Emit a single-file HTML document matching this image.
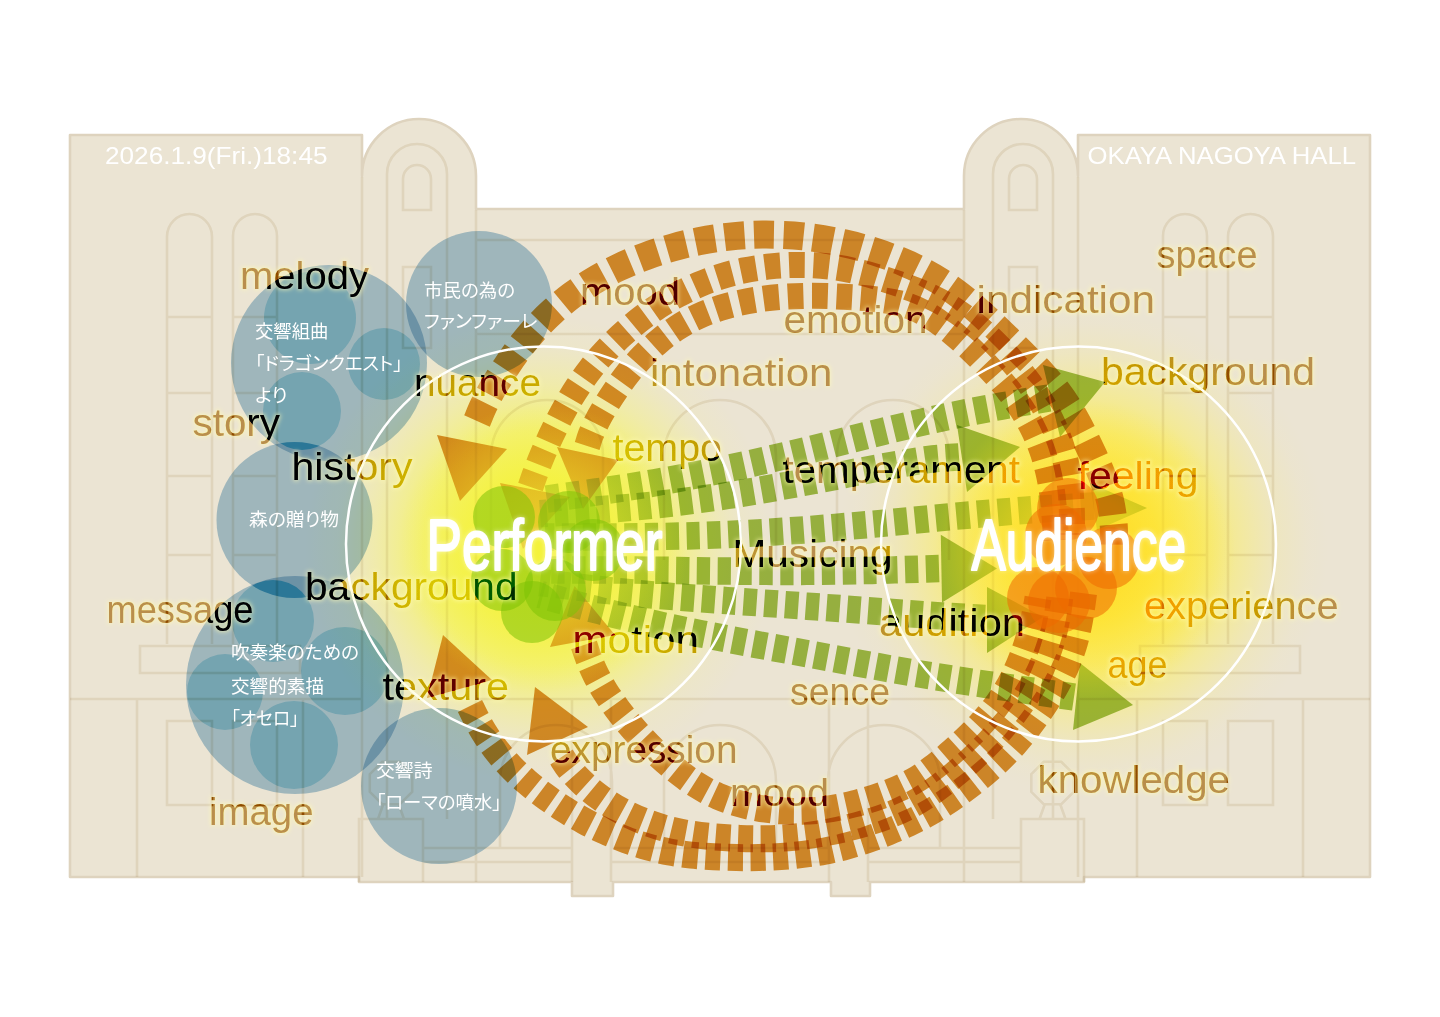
<!DOCTYPE html>
<html lang="ja"><head><meta charset="utf-8"><title>Performer / Audience</title>
<style>
html,body{margin:0;padding:0;background:#fff;}
body{width:1440px;height:1017px;overflow:hidden;font-family:"Liberation Sans","Noto Sans CJK JP",sans-serif;}
svg{display:block;}
</style></head><body>
<svg width="1440" height="1017" viewBox="0 0 1440 1017">
<path d="M70 135 H362 V176 A57 57 0 0 1 476 176 V209 H964 V176 A57 57 0 0 1 1078 176 V135 H1370 V877 H1084 V882 H870 V896 H831 V882 H613 V896 H572 V882 H359 V877 H70 Z" fill="#EBE4D3" stroke="#DED3BE" stroke-width="2.6" stroke-linejoin="round"/>
<defs>
<radialGradient id="gy" cx="0.5" cy="0.5" r="0.5">
<stop offset="0" stop-color="#F4F23A" stop-opacity="1"/><stop offset="0.3" stop-color="#F5F346" stop-opacity="0.95"/><stop offset="0.5" stop-color="#F6F45C" stop-opacity="0.8"/><stop offset="0.7" stop-color="#F7F570" stop-opacity="0.4"/><stop offset="0.86" stop-color="#F8F678" stop-opacity="0.1"/><stop offset="1" stop-color="#F8F678" stop-opacity="0"/>
</radialGradient>
<radialGradient id="gy2" cx="0.5" cy="0.5" r="0.5">
<stop offset="0" stop-color="#FEE838" stop-opacity="1"/><stop offset="0.3" stop-color="#FDEA46" stop-opacity="0.97"/><stop offset="0.48" stop-color="#FBEC5A" stop-opacity="0.82"/><stop offset="0.65" stop-color="#FAEE6C" stop-opacity="0.5"/><stop offset="0.8" stop-color="#FAEE72" stop-opacity="0.18"/><stop offset="0.92" stop-color="#FAEE72" stop-opacity="0.04"/><stop offset="1" stop-color="#FAEE72" stop-opacity="0"/>
</radialGradient>
<radialGradient id="gn" cx="0.5" cy="0.5" r="0.5">
<stop offset="0" stop-color="#F4F23A" stop-opacity="0.7"/><stop offset="0.4" stop-color="#F4F23A" stop-opacity="0.52"/><stop offset="1" stop-color="#F4F23A" stop-opacity="0"/>
</radialGradient>
<radialGradient id="gn2" cx="0.5" cy="0.5" r="0.5">
<stop offset="0" stop-color="#FFD21E" stop-opacity="0.8"/><stop offset="0.36" stop-color="#FFDC26" stop-opacity="0.65"/><stop offset="1" stop-color="#FFE830" stop-opacity="0"/>
</radialGradient>
<filter id="halo" x="-2%" y="-2%" width="104%" height="104%">
<feMorphology in="SourceAlpha" operator="dilate" radius="1.2" result="d"/>
<feGaussianBlur in="d" stdDeviation="2.2" result="b"/>
<feComposite in="b" in2="SourceAlpha" operator="out" result="o"/>
<feFlood flood-color="#FFFAB4" flood-opacity="0.65"/>
<feComposite in2="o" operator="in"/>
</filter>
</defs>
<circle cx="540" cy="548" r="235" fill="url(#gy)"/>
<circle cx="1083" cy="548" r="245" fill="url(#gy2)"/>
<path d="M362 177 L362 877 M1078 177 L1078 877 M476 210 L476 882 M964 210 L964 882 M387 819 V174 A30 30 0 0 1 447 174 V819 M1053 819 V174 A30 30 0 0 0 993 174 V819 M403 210 V179 A14 14 0 0 1 431 179 V210 Z M1037 210 V179 A14 14 0 0 0 1009 179 V210 Z M403 267 H431 V348 H403 Z M1037 267 H1009 V348 H1037 Z M167 644 V236.5 A22.5 22.5 0 0 1 212 236.5 V644 M1273 644 V236.5 A22.5 22.5 0 0 0 1228 236.5 V644 M233 644 V236 A22 22 0 0 1 277 236 V644 M1207 644 V236 A22 22 0 0 0 1163 236 V644 M167 317 L212 317 M1273 317 L1228 317 M233 317 L277 317 M1207 317 L1163 317 M167 393 L212 393 M1273 393 L1228 393 M233 393 L277 393 M1207 393 L1163 393 M167 476 L212 476 M1273 476 L1228 476 M233 476 L277 476 M1207 476 L1163 476 M167 555 L212 555 M1273 555 L1228 555 M233 555 L277 555 M1207 555 L1163 555 M140 646 H300 V673 H140 Z M1300 646 H1140 V673 H1300 Z M70 699 L362 699 M1370 699 L1078 699 M137 699 L137 877 M1303 699 L1303 877 M303 699 L303 877 M1137 699 L1137 877 M167 721 H212 V805 H167 Z M1273 721 H1228 V805 H1273 Z M233 721 H277 V805 H233 Z M1207 721 H1163 V805 H1207 Z M476 240 L720 240 M964 240 L720 240 M476 334 L720 334 M964 334 L720 334 M476 699 L720 699 M964 699 L720 699 M359 882 V819 H423 V882 M1021 882 V819 H1084 V882 M412.2 791.8 L399.8 804.2 L382.2 804.2 L369.8 791.8 L369.8 774.2 L382.2 761.8 L399.8 761.8 L412.2 774.2 Z M383 805 L378 819 M399 805 L404 819 M1073.7 791.8 L1061.3 804.2 L1043.7 804.2 L1031.3 791.8 L1031.3 774.2 L1043.7 761.8 L1061.3 761.8 L1073.7 774.2 Z M1044.5 805 L1039.5 819 M1060.5 805 L1065.5 819 M491 560 V456 A56 56 0 0 1 603 456 V560 M664 560 V456 A56 56 0 0 1 776 456 V560 M837 560 V456 A56 56 0 0 1 949 456 V560 M500 848 V781 A56 56 0 0 1 612 781 V848 M664 848 V781 A56 56 0 0 1 776 781 V848 M828 848 V781 A56 56 0 0 1 940 781 V848 M572 699 V882 M611 699 V882 M829 699 V882 M868 699 V882 M423 848 H572 M423 862 H572 M611 848 H829 M611 862 H829 M868 848 H1021 M868 862 H1021" fill="none" stroke="#F2EDE4" stroke-width="2.6" style="mix-blend-mode:multiply"/>
<g fill="#ADCCE2" style="mix-blend-mode:multiply">
<circle cx="329" cy="363" r="98" style="mix-blend-mode:multiply"/>
<circle cx="479" cy="304" r="73" style="mix-blend-mode:multiply"/>
<circle cx="294.5" cy="520" r="78" style="mix-blend-mode:multiply"/>
<circle cx="295" cy="685" r="109" style="mix-blend-mode:multiply"/>
<circle cx="439" cy="786" r="78" style="mix-blend-mode:multiply"/>
</g>
<g fill="#B1CCDC">
<circle cx="310" cy="318" r="46" style="mix-blend-mode:color-burn"/>
<circle cx="384" cy="364" r="36" style="mix-blend-mode:color-burn"/>
<circle cx="302" cy="411" r="39" style="mix-blend-mode:color-burn"/>
<circle cx="273" cy="621" r="41" style="mix-blend-mode:color-burn"/>
<circle cx="345" cy="671" r="44" style="mix-blend-mode:color-burn"/>
<circle cx="225" cy="692" r="38" style="mix-blend-mode:color-burn"/>
<circle cx="294" cy="745" r="44" style="mix-blend-mode:color-burn"/>
</g>
<path d="M1049.0 398.0 C1041.0 399.4 1018.3 403.0 1001.2 406.1 C984.2 409.3 966.8 412.4 946.9 416.7 C927.1 420.9 905.6 426.0 882.3 431.6 C859.0 437.2 833.1 444.1 807.2 450.3 C781.3 456.5 752.5 463.3 727.1 468.7 C701.7 474.1 676.8 478.8 654.8 482.7 C632.7 486.7 614.1 489.3 594.9 492.2 C575.8 495.1 549.2 498.7 540.0 500.0" fill="none" stroke="#A3C44C" stroke-width="27.5" stroke-dasharray="13.3 7.5" style="mix-blend-mode:multiply"/>
<path d="M959.0 457.0 C953.7 457.4 941.1 457.8 927.4 459.6 C913.8 461.5 897.3 464.4 877.1 468.1 C857.0 471.8 831.6 477.2 806.6 481.8 C781.6 486.4 752.4 491.7 727.1 495.5 C701.8 499.4 676.8 502.5 654.8 504.9 C632.7 507.4 614.1 508.7 594.9 510.1 C575.8 511.5 549.2 513.0 540.0 513.6" fill="none" stroke="#A3C44C" stroke-width="27.5" stroke-dasharray="13.3 7.5" style="mix-blend-mode:multiply"/>
<path d="M1094.0 506.0 C1082.6 506.7 1049.1 508.5 1025.9 510.2 C1002.7 512.0 979.3 514.1 954.9 516.3 C930.4 518.5 904.9 521.2 879.1 523.6 C853.3 525.9 826.1 528.3 800.0 530.2 C773.9 532.0 746.8 533.6 722.5 534.7 C698.2 535.8 675.0 536.2 654.1 536.6 C633.1 537.0 615.1 536.9 596.9 537.0 C578.7 537.1 553.6 537.0 545.0 537.0" fill="none" stroke="#A3C44C" stroke-width="27.5" stroke-dasharray="13.3 7.5" style="mix-blend-mode:multiply"/>
<path d="M939.0 568.5 C927.9 568.8 895.5 570.0 872.1 570.4 C848.7 570.9 823.6 571.3 798.7 571.4 C773.8 571.5 746.6 571.2 722.5 571.0 C698.4 570.8 675.0 570.4 654.1 570.2 C633.1 570.1 615.1 570.0 596.9 569.9 C578.7 569.9 553.6 570.0 545.0 570.0" fill="none" stroke="#A3C44C" stroke-width="27.5" stroke-dasharray="13.3 7.5" style="mix-blend-mode:multiply"/>
<path d="M985.0 618.4 C977.6 618.0 957.7 617.0 940.4 615.9 C923.1 614.7 903.4 613.2 881.2 611.6 C859.0 610.0 832.8 608.0 807.1 606.2 C781.4 604.3 752.5 602.4 727.1 600.6 C701.7 598.7 676.8 597.0 654.8 595.1 C632.7 593.1 614.1 591.2 594.9 589.1 C575.8 587.0 549.2 583.6 540.0 582.5" fill="none" stroke="#A3C44C" stroke-width="27.5" stroke-dasharray="13.3 7.5" style="mix-blend-mode:multiply"/>
<path d="M1074.0 697.0 C1059.6 694.9 1014.0 688.6 987.3 684.6 C960.7 680.6 936.0 676.7 914.1 673.1 C892.2 669.4 875.6 666.2 856.1 662.7 C836.5 659.1 818.5 655.8 796.8 651.8 C775.0 647.8 749.1 643.3 725.4 638.6 C701.8 634.0 676.5 628.9 654.8 624.0 C633.0 619.2 614.1 614.3 594.9 609.4 C575.8 604.5 549.2 597.0 540.0 594.5" fill="none" stroke="#A3C44C" stroke-width="27.5" stroke-dasharray="13.3 7.5" style="mix-blend-mode:multiply"/>
<path d="M1043 365 L1105 382 L1060 437 Z" fill="#A3C44C" style="mix-blend-mode:multiply"/>
<path d="M957 425 L1020 447 L967 492 Z" fill="#A3C44C" style="mix-blend-mode:multiply"/>
<path d="M1090 483 L1147 508 L1097 530 Z" fill="#A3C44C" style="mix-blend-mode:multiply"/>
<path d="M940.8 534.8 L997 568.6 L942 602.5 Z" fill="#A3C44C" style="mix-blend-mode:multiply"/>
<path d="M987 587 L1043 617 L987 653 Z" fill="#A3C44C" style="mix-blend-mode:multiply"/>
<path d="M1080 663 L1133 705 L1073 730 Z" fill="#A3C44C" style="mix-blend-mode:multiply"/>
<circle cx="1085" cy="550" r="150" fill="url(#gn2)"/>
<path d="M477.0 421.0 C478.1 418.5 480.7 411.5 483.4 405.9 C486.1 400.3 489.5 393.9 493.2 387.4 C497.0 381.0 501.6 373.6 506.1 366.9 C510.5 360.2 515.3 353.3 520.2 347.0 C525.1 340.6 530.1 334.5 535.4 328.6 C540.8 322.7 546.4 317.0 552.5 311.5 C558.5 306.0 564.9 300.6 571.8 295.4 C578.8 290.3 586.2 285.2 594.0 280.6 C601.8 275.9 610.2 271.4 618.8 267.4 C627.3 263.3 636.5 259.6 645.4 256.3 C654.3 253.0 663.5 250.1 672.4 247.6 C681.3 245.1 689.6 243.1 698.7 241.3 C707.9 239.5 716.7 238.0 727.3 236.8 C737.9 235.7 749.8 234.6 762.4 234.6 C775.1 234.5 789.7 234.9 803.3 236.4 C816.9 237.8 831.6 240.5 843.9 243.2 C856.2 245.8 867.5 249.4 877.0 252.4 C886.4 255.4 893.4 258.2 900.6 261.1 C907.7 264.1 913.4 266.6 919.9 269.9 C926.4 273.2 932.9 276.8 939.5 281.0 C946.1 285.2 952.9 290.0 959.4 295.0 C965.9 300.0 972.3 305.6 978.4 311.1 C984.6 316.5 990.5 322.2 996.2 327.6 C1001.9 333.1 1007.4 338.5 1012.8 343.9 C1018.2 349.2 1023.5 354.4 1028.6 359.7 C1033.8 365.0 1038.9 370.0 1043.8 375.6 C1048.8 381.1 1053.7 386.7 1058.3 392.9 C1062.9 399.0 1067.2 405.6 1071.3 412.4 C1075.5 419.3 1079.3 426.6 1083.0 433.9 C1086.7 441.2 1090.3 448.8 1093.7 456.2 C1097.1 463.7 1100.5 471.3 1103.2 478.9 C1106.0 486.5 1108.6 494.1 1110.3 501.8 C1112.0 509.5 1113.0 517.2 1113.7 524.9 C1114.3 532.6 1113.9 544.2 1114.0 548.0" fill="none" stroke="#DE9530" stroke-width="28" stroke-dasharray="20 9.5" style="mix-blend-mode:multiply"/>
<path d="M530.5 487.0 C531.2 485.0 533.0 479.6 534.6 475.1 C536.3 470.5 538.2 465.3 540.5 459.8 C542.7 454.3 545.4 448.0 548.2 441.9 C550.9 435.8 554.0 429.5 557.1 423.3 C560.2 417.1 563.4 410.9 566.9 404.8 C570.3 398.6 573.9 392.5 577.9 386.6 C581.8 380.6 586.0 374.7 590.5 369.0 C594.9 363.2 599.7 357.6 604.8 352.1 C609.9 346.5 615.3 341.1 621.0 335.8 C626.7 330.5 632.7 325.3 639.0 320.3 C645.2 315.4 651.8 310.6 658.4 306.2 C665.1 301.8 672.1 297.8 678.9 294.1 C685.8 290.5 692.7 287.2 699.6 284.3 C706.5 281.4 713.1 278.9 720.4 276.6 C727.6 274.3 734.8 272.3 743.2 270.6 C751.5 268.9 760.8 267.4 770.4 266.4 C780.1 265.5 790.9 264.8 801.1 264.9 C811.3 264.9 821.8 265.6 831.5 266.8 C841.2 267.9 850.6 270.0 859.4 272.1 C868.2 274.2 876.5 276.8 884.4 279.3 C892.4 281.8 899.7 284.2 906.9 286.9 C914.2 289.6 921.1 292.2 927.9 295.4 C934.8 298.6 941.6 302.1 948.2 306.1 C954.8 310.0 961.2 314.4 967.4 318.9 C973.5 323.5 979.5 328.5 985.1 333.6 C990.8 338.6 996.2 344.0 1001.4 349.4 C1006.5 354.9 1011.5 360.5 1016.1 366.1 C1020.8 371.8 1025.2 377.5 1029.4 383.4 C1033.5 389.3 1037.5 395.3 1041.1 401.6 C1044.8 407.8 1048.2 414.2 1051.3 420.8 C1054.4 427.4 1057.2 434.2 1059.7 441.2 C1062.1 448.1 1064.2 455.2 1065.9 462.5 C1067.6 469.8 1069.0 477.2 1069.9 485.0 C1070.9 492.8 1071.4 500.9 1071.8 509.2 C1072.1 517.6 1072.0 530.7 1072.0 535.0" fill="none" stroke="#DE9530" stroke-width="26" stroke-dasharray="15.7 8.6" style="mix-blend-mode:multiply"/>
<path d="M587.2 446.0 C587.8 444.2 589.1 439.1 590.7 435.0 C592.4 431.0 594.4 426.4 596.9 421.5 C599.4 416.6 602.5 411.1 605.8 405.7 C609.0 400.3 612.6 394.6 616.5 389.0 C620.3 383.4 624.5 377.6 628.9 372.1 C633.3 366.7 638.0 361.3 643.0 356.2 C647.9 351.1 653.0 346.3 658.5 341.7 C663.9 337.1 669.3 332.8 675.8 328.6 C682.2 324.5 688.7 320.5 697.0 316.8 C705.3 313.1 714.6 309.4 725.5 306.4 C736.3 303.4 749.0 300.6 762.0 298.9 C774.9 297.1 789.6 296.2 803.3 295.9 C817.0 295.5 831.6 296.1 844.2 296.8 C856.7 297.4 868.6 298.3 878.6 299.6 C888.7 300.9 896.6 302.3 904.4 304.6 C912.1 306.9 918.4 309.8 925.0 313.4 C931.6 317.0 937.9 321.4 944.2 326.1 C950.4 330.8 956.6 336.2 962.4 341.4 C968.3 346.7 974.0 352.3 979.4 357.8 C984.9 363.2 990.1 368.8 995.1 374.4 C1000.1 380.0 1004.9 385.6 1009.4 391.5 C1013.9 397.4 1018.1 403.3 1022.1 409.5 C1026.0 415.7 1029.7 422.0 1032.9 428.6 C1036.2 435.1 1039.1 441.9 1041.6 448.8 C1044.1 455.8 1046.2 462.9 1047.9 470.2 C1049.7 477.5 1051.0 484.9 1052.1 492.5 C1053.2 500.1 1053.8 507.9 1054.5 515.8 C1055.2 523.7 1055.8 536.0 1056.0 540.0" fill="none" stroke="#DE9530" stroke-width="26" stroke-dasharray="15.7 8.6" style="mix-blend-mode:multiply"/>
<path d="M470.0 706.0 C471.2 708.4 474.3 715.2 477.0 720.1 C479.7 725.1 482.7 730.4 486.1 735.6 C489.6 740.9 493.5 746.5 497.6 751.7 C501.8 756.9 506.2 762.0 511.0 767.0 C515.8 772.0 520.9 776.7 526.3 781.4 C531.8 786.2 537.6 790.8 543.8 795.4 C549.9 799.9 556.4 804.4 563.1 808.7 C569.8 812.9 576.9 817.0 583.9 820.8 C590.9 824.6 598.1 828.1 605.2 831.3 C612.4 834.5 619.6 837.4 626.7 840.1 C633.8 842.7 640.9 845.0 648.0 847.0 C655.1 849.0 662.2 850.6 669.4 852.0 C676.6 853.4 683.8 854.3 691.2 855.1 C698.6 855.9 706.1 856.4 713.7 856.8 C721.2 857.2 729.0 857.4 736.6 857.6 C744.1 857.7 751.6 857.7 759.0 857.5 C766.4 857.3 773.6 857.0 780.9 856.5 C788.2 856.0 795.5 855.3 802.8 854.4 C810.1 853.5 817.6 852.4 824.8 851.1 C832.1 849.7 839.2 848.0 846.3 846.1 C853.4 844.2 860.3 842.1 867.3 839.7 C874.3 837.3 881.4 834.6 888.3 831.9 C895.2 829.1 902.3 826.0 908.6 823.1 C915.0 820.1 920.8 817.2 926.4 814.1 C932.1 811.0 936.9 808.1 942.4 804.5 C948.0 800.9 953.6 797.1 959.6 792.7 C965.6 788.3 972.3 783.3 978.6 778.1 C984.8 773.0 991.3 767.4 997.3 761.7 C1003.3 756.0 1009.1 750.0 1014.5 743.9 C1019.9 737.7 1025.1 731.3 1029.9 724.9 C1034.8 718.4 1039.5 711.8 1043.8 705.3 C1048.1 698.8 1052.3 692.2 1055.9 685.7 C1059.6 679.1 1063.0 672.6 1065.9 666.0 C1068.8 659.4 1071.2 652.8 1073.3 646.2 C1075.4 639.6 1076.9 632.8 1078.3 626.4 C1079.7 619.9 1080.6 613.5 1081.6 607.4 C1082.5 601.4 1083.6 592.9 1084.0 590.0" fill="none" stroke="#DE9530" stroke-width="27" stroke-dasharray="15 7.5" style="mix-blend-mode:multiply"/>
<path d="M561.5 757.0 C562.8 758.9 565.8 764.2 569.2 768.4 C572.6 772.6 576.7 777.4 581.8 782.2 C586.8 787.0 593.1 792.4 599.6 797.1 C606.0 801.8 613.3 806.5 620.4 810.4 C627.6 814.4 635.2 817.9 642.7 820.9 C650.2 823.9 657.8 826.4 665.5 828.6 C673.2 830.7 680.8 832.3 688.8 833.7 C696.9 835.1 705.2 836.0 713.8 836.8 C722.4 837.5 731.5 838.1 740.3 838.4 C749.2 838.8 758.2 838.9 767.1 838.8 C775.9 838.6 784.6 838.1 793.3 837.2 C802.0 836.4 810.7 835.2 819.2 833.8 C827.7 832.4 836.0 830.6 844.2 828.8 C852.3 826.9 860.3 824.8 868.1 822.4 C875.9 820.1 883.5 817.6 891.0 814.5 C898.5 811.4 905.9 807.9 913.1 803.9 C920.3 799.8 927.3 795.1 934.2 790.3 C941.0 785.5 947.7 780.2 954.1 774.9 C960.5 769.6 966.7 764.1 972.6 758.6 C978.5 753.1 984.2 747.5 989.6 741.9 C994.9 736.2 1000.1 730.5 1004.9 724.6 C1009.8 718.8 1014.5 712.9 1018.8 706.8 C1023.1 700.8 1027.2 694.6 1030.9 688.2 C1034.6 681.9 1038.0 675.4 1041.0 668.8 C1044.0 662.2 1046.7 655.4 1048.9 648.7 C1051.2 642.0 1053.1 635.1 1054.6 628.8 C1056.1 622.4 1057.2 616.3 1058.1 610.7 C1059.0 605.1 1059.7 597.6 1060.0 595.0" fill="none" stroke="#DE9530" stroke-width="27" stroke-dasharray="15 7.5" style="mix-blend-mode:multiply"/>
<path d="M584.0 645.0 C584.8 647.4 587.1 654.5 589.1 659.5 C591.1 664.5 593.3 669.7 596.0 675.1 C598.7 680.4 601.8 686.0 605.2 691.5 C608.7 697.0 612.6 702.6 616.6 708.1 C620.7 713.6 625.0 719.0 629.5 724.3 C634.0 729.6 638.6 734.9 643.6 740.1 C648.5 745.3 653.6 750.4 659.2 755.5 C664.7 760.6 670.6 765.7 676.7 770.6 C682.8 775.4 688.9 780.1 695.8 784.4 C702.7 788.7 709.5 792.7 717.9 796.2 C726.4 799.8 735.9 803.1 746.5 805.6 C757.1 808.0 769.5 810.1 781.4 810.9 C793.3 811.7 805.9 811.5 817.9 810.4 C830.0 809.2 842.3 806.8 853.8 803.9 C865.2 801.1 877.0 797.3 886.9 793.5 C896.8 789.7 905.5 785.6 913.1 781.4 C920.6 777.2 926.3 772.9 932.3 768.4 C938.3 764.0 943.5 759.3 949.0 754.6 C954.5 749.8 960.0 744.9 965.2 739.8 C970.5 734.8 975.8 729.6 980.7 724.2 C985.6 718.9 990.4 713.4 994.8 707.7 C999.1 702.0 1003.2 696.0 1006.9 689.9 C1010.6 683.7 1013.8 677.3 1016.8 670.7 C1019.8 664.1 1022.5 657.1 1024.9 650.4 C1027.3 643.7 1029.4 636.7 1031.1 630.4 C1032.9 624.2 1034.2 618.2 1035.3 612.8 C1036.5 607.4 1037.6 600.5 1038.0 598.0" fill="none" stroke="#DE9530" stroke-width="27" stroke-dasharray="15 7.5" style="mix-blend-mode:multiply"/>
<path d="M437 435 L507 449 L460 501 Z" fill="#DE9530" style="mix-blend-mode:multiply"/>
<path d="M500 483 L570 497 L523 549 Z" fill="#DE9530" style="mix-blend-mode:multiply"/>
<path d="M557 447 L618 460 L583 509 Z" fill="#DE9530" style="mix-blend-mode:multiply"/>
<path d="M443 635 L427 698 L492 680 Z" fill="#DE9530" style="mix-blend-mode:multiply"/>
<path d="M535 687 L588 727 L527 755 Z" fill="#DE9530" style="mix-blend-mode:multiply"/>
<path d="M574.6 586 L550 647 L615 635 Z" fill="#DE9530" style="mix-blend-mode:multiply"/>
<circle cx="543" cy="548" r="145" fill="url(#gn)"/>
<circle cx="504" cy="517" r="31" fill="#7DC305" fill-opacity="0.55"/>
<circle cx="569" cy="522" r="31" fill="#7DC305" fill-opacity="0.55"/>
<circle cx="593" cy="550" r="31" fill="#7DC305" fill-opacity="0.55"/>
<circle cx="555" cy="590" r="31" fill="#7DC305" fill-opacity="0.55"/>
<circle cx="532" cy="612" r="31" fill="#7DC305" fill-opacity="0.55"/>
<circle cx="502" cy="580" r="31" fill="#7DC305" fill-opacity="0.55"/>
<circle cx="1068" cy="509" r="31" fill="#EE6900" fill-opacity="0.55"/>
<circle cx="1056" cy="535" r="31" fill="#EE6900" fill-opacity="0.55"/>
<circle cx="1038" cy="598" r="31" fill="#EE6900" fill-opacity="0.55"/>
<circle cx="1059" cy="602" r="31" fill="#EE6900" fill-opacity="0.55"/>
<circle cx="1086" cy="588" r="31" fill="#EE6900" fill-opacity="0.55"/>
<circle cx="1109" cy="558" r="31" fill="#EE6900" fill-opacity="0.55"/>
<circle cx="543.5" cy="544" r="197.5" fill="none" stroke="#fff" stroke-width="2.5"/>
<circle cx="1078.5" cy="544" r="197.5" fill="none" stroke="#fff" stroke-width="2.5"/>
<g aria-hidden="true" font-family="'Liberation Sans',sans-serif" font-size="38" fill="#000" filter="url(#halo)">
<text x="240" y="289" textLength="129" lengthAdjust="spacingAndGlyphs">melody</text>
<text x="580" y="305" textLength="100" lengthAdjust="spacingAndGlyphs">mood</text>
<text x="414" y="396" textLength="127" lengthAdjust="spacingAndGlyphs">nuance</text>
<text x="192.5" y="436" textLength="87.5" lengthAdjust="spacingAndGlyphs">story</text>
<text x="291.5" y="480" textLength="121" lengthAdjust="spacingAndGlyphs">history</text>
<text x="612.5" y="461" textLength="109.5" lengthAdjust="spacingAndGlyphs">tempo</text>
<text x="650" y="386" textLength="182.5" lengthAdjust="spacingAndGlyphs">intonation</text>
<text x="1156.5" y="267.5" textLength="101" lengthAdjust="spacingAndGlyphs">space</text>
<text x="976.5" y="312.5" textLength="178.5" lengthAdjust="spacingAndGlyphs">indication</text>
<text x="783.5" y="332.5" textLength="144" lengthAdjust="spacingAndGlyphs">emotion</text>
<text x="1101" y="385" textLength="214" lengthAdjust="spacingAndGlyphs">background</text>
<text x="782.5" y="482.5" textLength="237.5" lengthAdjust="spacingAndGlyphs">temperament</text>
<text x="1077.5" y="489" textLength="121" lengthAdjust="spacingAndGlyphs">feeling</text>
<text x="732.5" y="566.5" textLength="160" lengthAdjust="spacingAndGlyphs">Musicing</text>
<text x="305" y="600" textLength="212.5" lengthAdjust="spacingAndGlyphs">background</text>
<text x="106.5" y="622.5" textLength="147" lengthAdjust="spacingAndGlyphs">message</text>
<text x="572.5" y="652.5" textLength="126.5" lengthAdjust="spacingAndGlyphs">motion</text>
<text x="382.5" y="700" textLength="126.5" lengthAdjust="spacingAndGlyphs">texture</text>
<text x="550" y="762.5" textLength="187.5" lengthAdjust="spacingAndGlyphs">expression</text>
<text x="209" y="825" textLength="104.5" lengthAdjust="spacingAndGlyphs">image</text>
<text x="879" y="636" textLength="146" lengthAdjust="spacingAndGlyphs">audition</text>
<text x="1144" y="619" textLength="194.5" lengthAdjust="spacingAndGlyphs">experience</text>
<text x="1107.5" y="677.5" textLength="60" lengthAdjust="spacingAndGlyphs">age</text>
<text x="790" y="705" textLength="100" lengthAdjust="spacingAndGlyphs">sence</text>
<text x="730" y="806" textLength="99" lengthAdjust="spacingAndGlyphs">mood</text>
<text x="1037.5" y="792.5" textLength="192.5" lengthAdjust="spacingAndGlyphs">knowledge</text>
</g>
<g font-family="'Liberation Sans',sans-serif" font-size="38" fill="#493D3F">
<text x="240" y="289" textLength="129" lengthAdjust="spacingAndGlyphs" style="mix-blend-mode:color-burn">melody</text>
<text x="580" y="305" textLength="100" lengthAdjust="spacingAndGlyphs" style="mix-blend-mode:color-burn">mood</text>
<text x="414" y="396" textLength="127" lengthAdjust="spacingAndGlyphs" style="mix-blend-mode:color-burn">nuance</text>
<text x="192.5" y="436" textLength="87.5" lengthAdjust="spacingAndGlyphs" style="mix-blend-mode:color-burn">story</text>
<text x="291.5" y="480" textLength="121" lengthAdjust="spacingAndGlyphs" style="mix-blend-mode:color-burn">history</text>
<text x="612.5" y="461" textLength="109.5" lengthAdjust="spacingAndGlyphs" style="mix-blend-mode:color-burn">tempo</text>
<text x="650" y="386" textLength="182.5" lengthAdjust="spacingAndGlyphs" style="mix-blend-mode:color-burn">intonation</text>
<text x="1156.5" y="267.5" textLength="101" lengthAdjust="spacingAndGlyphs" style="mix-blend-mode:color-burn">space</text>
<text x="976.5" y="312.5" textLength="178.5" lengthAdjust="spacingAndGlyphs" style="mix-blend-mode:color-burn">indication</text>
<text x="783.5" y="332.5" textLength="144" lengthAdjust="spacingAndGlyphs" style="mix-blend-mode:color-burn">emotion</text>
<text x="1101" y="385" textLength="214" lengthAdjust="spacingAndGlyphs" style="mix-blend-mode:color-burn">background</text>
<text x="782.5" y="482.5" textLength="237.5" lengthAdjust="spacingAndGlyphs" style="mix-blend-mode:color-burn">temperament</text>
<text x="1077.5" y="489" textLength="121" lengthAdjust="spacingAndGlyphs" style="mix-blend-mode:color-burn">feeling</text>
<text x="732.5" y="566.5" textLength="160" lengthAdjust="spacingAndGlyphs" style="mix-blend-mode:color-burn">Musicing</text>
<text x="305" y="600" textLength="212.5" lengthAdjust="spacingAndGlyphs" style="mix-blend-mode:color-burn">background</text>
<text x="106.5" y="622.5" textLength="147" lengthAdjust="spacingAndGlyphs" style="mix-blend-mode:color-burn">message</text>
<text x="572.5" y="652.5" textLength="126.5" lengthAdjust="spacingAndGlyphs" style="mix-blend-mode:color-burn">motion</text>
<text x="382.5" y="700" textLength="126.5" lengthAdjust="spacingAndGlyphs" style="mix-blend-mode:color-burn">texture</text>
<text x="550" y="762.5" textLength="187.5" lengthAdjust="spacingAndGlyphs" style="mix-blend-mode:color-burn">expression</text>
<text x="209" y="825" textLength="104.5" lengthAdjust="spacingAndGlyphs" style="mix-blend-mode:color-burn">image</text>
<text x="879" y="636" textLength="146" lengthAdjust="spacingAndGlyphs" style="mix-blend-mode:color-burn">audition</text>
<text x="1144" y="619" textLength="194.5" lengthAdjust="spacingAndGlyphs" style="mix-blend-mode:color-burn">experience</text>
<text x="1107.5" y="677.5" textLength="60" lengthAdjust="spacingAndGlyphs" style="mix-blend-mode:color-burn">age</text>
<text x="790" y="705" textLength="100" lengthAdjust="spacingAndGlyphs" style="mix-blend-mode:color-burn">sence</text>
<text x="730" y="806" textLength="99" lengthAdjust="spacingAndGlyphs" style="mix-blend-mode:color-burn">mood</text>
<text x="1037.5" y="792.5" textLength="192.5" lengthAdjust="spacingAndGlyphs" style="mix-blend-mode:color-burn">knowledge</text>
</g>
<g font-family="'Liberation Sans',sans-serif" font-size="24" fill="#fff">
<text x="105" y="164" textLength="222.5" lengthAdjust="spacingAndGlyphs">2026.1.9(Fri.)18:45</text>
<text x="1087.5" y="164" textLength="268.5" lengthAdjust="spacingAndGlyphs">OKAYA NAGOYA HALL</text>
</g>
<g font-family="'Liberation Sans','Noto Sans CJK JP',sans-serif" font-weight="400" font-size="18.5" fill="#fff" style="font-feature-settings:'palt'">
<text x="424" y="296.5" textLength="91" lengthAdjust="spacingAndGlyphs">市民の為の</text>
<text x="424" y="328" textLength="113.5" lengthAdjust="spacingAndGlyphs">ファンファーレ</text>
<text x="255" y="337.5" textLength="73.5" lengthAdjust="spacingAndGlyphs">交響組曲</text>
<text x="255" y="370" textLength="147.5" lengthAdjust="spacingAndGlyphs">「ドラゴンクエスト」</text>
<text x="255" y="401.5" textLength="32.5" lengthAdjust="spacingAndGlyphs">より</text>
<text x="249" y="525.5" textLength="90" lengthAdjust="spacingAndGlyphs">森の贈り物</text>
<text x="231" y="659" textLength="128" lengthAdjust="spacingAndGlyphs">吹奏楽のための</text>
<text x="231" y="692.5" textLength="93" lengthAdjust="spacingAndGlyphs">交響的素描</text>
<text x="231" y="725" textLength="68" lengthAdjust="spacingAndGlyphs">「オセロ」</text>
<text x="376" y="776.5" textLength="56.5" lengthAdjust="spacingAndGlyphs">交響詩</text>
<text x="376" y="809" textLength="125.5" lengthAdjust="spacingAndGlyphs">「ローマの噴水」</text>
</g>
<text x="426.5" y="570" textLength="236" lengthAdjust="spacingAndGlyphs" font-family="'Liberation Sans',sans-serif" font-weight="400" font-size="73" fill="#fff" stroke="#fff" stroke-width="2.1" stroke-linejoin="round" style="filter:drop-shadow(0 0 2.5px rgba(255,255,240,0.55))">Performer</text>
<text x="971.5" y="570" textLength="214.5" lengthAdjust="spacingAndGlyphs" font-family="'Liberation Sans',sans-serif" font-weight="400" font-size="73" fill="#fff" stroke="#fff" stroke-width="2.1" stroke-linejoin="round" style="filter:drop-shadow(0 0 2.5px rgba(255,255,240,0.55))">Audience</text>
</svg>
</body></html>
